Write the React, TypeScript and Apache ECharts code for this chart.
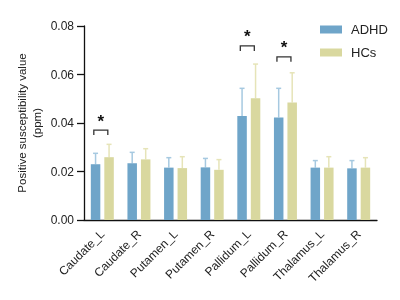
import React, { useEffect, useRef } from "react";
import * as echarts from "echarts";

const categories = ["Caudate_L", "Caudate_R", "Putamen_L", "Putamen_R", "Pallidum_L", "Pallidum_R", "Thalamus_L", "Thalamus_R"];
const adhdMean = [0.023, 0.0234, 0.0216, 0.0217, 0.0429, 0.0423, 0.0216, 0.0213];
const adhdSD = [0.0045, 0.0045, 0.0041, 0.0037, 0.0114, 0.012, 0.0029, 0.0032];
const hcMean = [0.0259, 0.025, 0.0214, 0.0207, 0.0502, 0.0485, 0.0216, 0.0216];
const hcSD = [0.0053, 0.0044, 0.0047, 0.0042, 0.0141, 0.0122, 0.0045, 0.0041];
const sigIndex = [0, 4, 5];
const sigLevel = [0.0371, 0.0718, 0.0673];

const BLUE = "#6fa5c9";
const KHAKI = "#d9d89f";
const BLUE_ERR = "#a6c9e0";
const KHAKI_ERR = "#e6e4b8";
const BAR_W = 9.5;
const OFFSET = 6.75;

function errorSeries(name: string, means: number[], sds: number[], offset: number, color: string) {
  return {
    type: "custom",
    name,
    data: means.map((m, i) => [i, m, m + sds[i]]),
    encode: { x: 0, y: [1, 2] },
    z: 1,
    renderItem: (params: any, api: any) => {
      const i = api.value(0);
      const p0 = api.coord([i, api.value(1)]);
      const p1 = api.coord([i, api.value(2)]);
      const x = p0[0] + offset;
      const style = { stroke: color, lineWidth: 1.5, fill: "none" };
      return {
        type: "group",
        children: [
          { type: "line", shape: { x1: x, y1: p0[1], x2: x, y2: p1[1] }, style },
          { type: "line", shape: { x1: x - 2.5, y1: p1[1], x2: x + 2.5, y2: p1[1] }, style },
        ],
      };
    },
  };
}

export default function App() {
  const ref = useRef<HTMLDivElement>(null);
  useEffect(() => {
    if (!ref.current) return;
    const chart = echarts.init(ref.current, null, { renderer: "svg" });
    const font = "Liberation Sans, Arial, sans-serif";
    chart.setOption({
      animation: false,
      textStyle: { fontFamily: font },
      grid: { left: 84, right: 23, top: 26, bottom: 80 },
      legend: {
        data: ["ADHD", "HCs"],
        orient: "vertical",
        left: 315,
        top: 18,
        itemWidth: 22,
        itemHeight: 8,
        itemGap: 10,
        itemStyle: { borderWidth: 0 },
        icon: "rect",
        textStyle: { fontSize: 13, color: "#222", fontFamily: font, padding: [0, 0, 0, 4] },
      },
      xAxis: {
        type: "category",
        data: categories,
        axisLine: { lineStyle: { color: "#111", width: 1.3 } },
        axisTick: { alignWithLabel: true, length: 7, lineStyle: { color: "#333", width: 1.3 } },
        axisLabel: { rotate: 45, fontSize: 12, color: "#222", margin: 12, fontFamily: font },
      },
      yAxis: {
        type: "value",
        min: 0,
        max: 0.08,
        interval: 0.02,
        name: "Positive susceptibility value\n(ppm)",
        nameLocation: "middle",
        nameGap: 40,
        nameMoveOverlap: false,
        nameTextStyle: { fontSize: 11.5, color: "#222", lineHeight: 15, fontFamily: font },
        axisLine: { show: true, lineStyle: { color: "#111", width: 1.3 } },
        axisTick: { show: true, length: 7, lineStyle: { color: "#111", width: 1.3 } },
        splitLine: { show: false },
        axisLabel: { fontSize: 12, color: "#222", margin: 10, formatter: (v: number) => v.toFixed(2), fontFamily: font },
      },
      series: [
        { type: "bar", name: "ADHD", data: adhdMean, barWidth: BAR_W, barGap: "42%", itemStyle: { color: BLUE }, z: 2 },
        { type: "bar", name: "HCs", data: hcMean, barWidth: BAR_W, itemStyle: { color: KHAKI }, z: 2 },
        errorSeries("ADHD_err", adhdMean, adhdSD, -OFFSET, BLUE_ERR),
        errorSeries("HCs_err", hcMean, hcSD, OFFSET, KHAKI_ERR),
        {
          type: "custom",
          name: "sig",
          data: sigIndex.map((c, k) => [c, sigLevel[k]]),
          encode: { x: 0, y: 1 },
          z: 3,
          renderItem: (params: any, api: any) => {
            const p = api.coord([api.value(0), api.value(1)]);
            const x1 = p[0] - 8.5;
            const x2 = p[0] + 5.5;
            const y = p[1];
            return {
              type: "group",
              children: [
                {
                  type: "polyline",
                  shape: { points: [[x1, y + 5], [x1, y], [x2, y], [x2, y + 5]] },
                  style: { stroke: "#333", lineWidth: 1.3, fill: "none" },
                },
                {
                  type: "text",
                  x: (x1 + x2) / 2,
                  y: y - 9,
                  style: { text: "*", fontSize: 17, fontWeight: "bold", fill: "#111", align: "center", verticalAlign: "middle", fontFamily: font },
                },
              ],
            };
          },
        },
      ],
    });
    return () => chart.dispose();
  }, []);
  return <div ref={ref} style={{ position: "fixed", left: 0, top: 0, width: 400, height: 300 }} />;
}
